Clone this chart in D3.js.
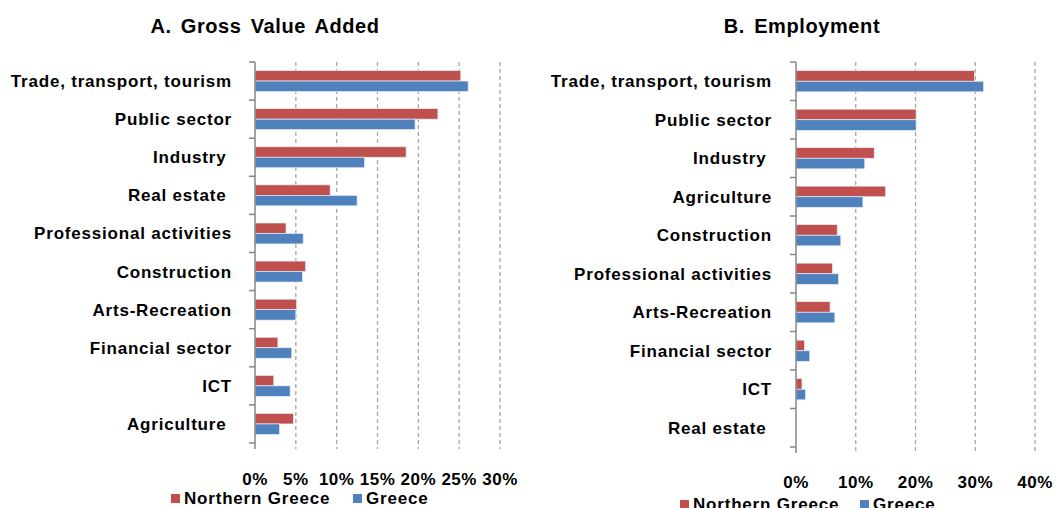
<!DOCTYPE html>
<html>
<head>
<meta charset="utf-8">
<script src="https://cdn.jsdelivr.net/npm/d3@7"></script>
<style>
  body { margin: 0; background: #ffffff; }
  svg { display: block; font-family: "Liberation Sans", Arial, sans-serif; font-weight: bold; }
</style>
</head>
<body>
<div id="chart"></div>
<script>
// series names
const seriesNames = ['Northern Greece', 'Greece']
const seriesColors = ['#C0504D', '#4F81BD']

// panel A: gross value added (share, %)
const gvaCategories = ['Trade, transport, tourism', 'Public sector', 'Industry ', 'Real estate ',
  'Professional activities', 'Construction', 'Arts-Recreation', 'Financial sector', 'ICT', 'Agriculture ']
const gvaNorthern = [25.2, 22.4, 18.5, 9.2, 3.8, 6.2, 5.1, 2.8, 2.3, 4.7]
const gvaGreece = [26.1, 19.6, 13.4, 12.5, 5.9, 5.8, 5.0, 4.5, 4.3, 3.0]
const gvaTicks = [0, 5, 10, 15, 20, 25, 30]

// panel B: employment (share, %)
const empCategories = ['Trade, transport, tourism', 'Public sector', 'Industry ', 'Agriculture',
  'Construction', 'Professional activities', 'Arts-Recreation', 'Financial sector', 'ICT', 'Real estate ']
const empNorthern = [29.9, 20.1, 13.1, 15.0, 6.9, 6.1, 5.7, 1.4, 1.0, 0]
const empGreece = [31.4, 20.1, 11.5, 11.2, 7.5, 7.1, 6.5, 2.3, 1.6, 0]
const empTicks = [0, 10, 20, 30, 40]

const svg = d3.select('#chart')
  .append('svg')
  .attr('width', 1057)
  .attr('height', 508)

function drawPanel(opts) {
  const g = svg.append('g')

  // title
  g.append('text')
    .attr('x', opts.titleX)
    .attr('y', 33)
    .attr('text-anchor', 'middle')
    .style('font-size', '20px')
    .style('letter-spacing', '0.6px')
    .style('word-spacing', '3px')
    .text(opts.title)

  const x = d3.scaleLinear()
    .domain([0, d3.max(opts.ticks)])
    .range([opts.left, opts.right])

  const y = d3.scaleBand()
    .domain(opts.categories)
    .range([opts.top, opts.bottom])
    .paddingInner(0.45)
    .paddingOuter(0.225)

  const ySub = d3.scaleBand()
    .domain(seriesNames)
    .range([0, y.bandwidth()])

  // dashed gridlines
  g.append('g')
    .selectAll('line')
    .data(opts.ticks.slice(1))
    .enter()
    .append('line')
      .attr('x1', d => x(d))
      .attr('x2', d => x(d))
      .attr('y1', opts.top)
      .attr('y2', opts.bottom + 6)
      .attr('stroke', '#a6a6a6')
      .attr('stroke-width', 1.3)
      .attr('stroke-dasharray', '4,3')

  // bars
  const rows = opts.categories.map((c, i) => ({ cat: c, vals: [opts.northern[i], opts.greece[i]] }))
  const groups = g.append('g')
    .selectAll('g')
    .data(rows)
    .enter()
    .append('g')
      .attr('transform', d => 'translate(0,' + y(d.cat) + ')')

  groups.selectAll('rect')
    .data(d => d.vals.map((v, j) => ({ name: seriesNames[j], value: v, color: seriesColors[j] })))
    .enter()
    .append('rect')
      .attr('x', x(0))
      .attr('y', d => ySub(d.name))
      .attr('width', d => x(d.value) - x(0))
      .attr('height', ySub.bandwidth())
      .attr('fill', d => d.color)
      .attr('stroke', d => d.value > 0 ? '#e6ecf5' : 'none')
      .attr('stroke-width', 0.7)

  // category axis (ticks between categories)
  const step = (opts.bottom - opts.top) / opts.categories.length
  const catTicks = d3.range(opts.categories.length + 1).map(i => opts.top + i * step)
  g.append('line')
    .attr('x1', x(0)).attr('x2', x(0))
    .attr('y1', opts.top).attr('y2', opts.bottom + 6)
    .attr('stroke', '#868686')
    .attr('stroke-width', 1.5)
  g.append('g')
    .selectAll('line')
    .data(catTicks)
    .enter()
    .append('line')
      .attr('x1', x(0) - 6).attr('x2', x(0))
      .attr('y1', d => d).attr('y2', d => d)
      .attr('stroke', '#868686')
      .attr('stroke-width', 1.5)

  // category labels
  g.append('g')
    .selectAll('text')
    .data(opts.categories)
    .enter()
    .append('text')
      .attr('x', opts.labelX)
      .attr('y', d => y(d) + y.bandwidth() / 2)
      .attr('dy', '0.35em')
      .attr('text-anchor', 'end')
      .style('font-size', '17px')
      .style('letter-spacing', '0.8px')
      .style('white-space', 'pre')
      .text(d => d)

  // value tick labels
  g.append('g')
    .selectAll('text')
    .data(opts.ticks)
    .enter()
    .append('text')
      .attr('x', d => x(d))
      .attr('y', opts.tickY)
      .attr('dy', '0.35em')
      .attr('text-anchor', 'middle')
      .style('font-size', '17px')
      .style('letter-spacing', '0.5px')
      .text(d => d + '%')

  // legend
  const legend = g.append('g')
  opts.legendX.forEach((lx, j) => {
    legend.append('rect')
      .attr('x', lx)
      .attr('y', opts.legendY - 4)
      .attr('width', 9)
      .attr('height', 9)
      .attr('fill', seriesColors[j])
    legend.append('text')
      .attr('x', lx + 13)
      .attr('y', opts.legendY)
      .attr('dy', '0.35em')
      .style('font-size', '17px')
      .style('letter-spacing', '0.8px')
      .text(seriesNames[j])
  })
}

drawPanel({
  title: 'A. Gross Value Added', titleX: 265,
  categories: gvaCategories, northern: gvaNorthern, greece: gvaGreece, ticks: gvaTicks,
  left: 255, right: 500, top: 62, bottom: 443, labelX: 232,
  tickY: 479, legendX: [171, 353], legendY: 498
})

drawPanel({
  title: 'B. Employment', titleX: 802,
  categories: empCategories, northern: empNorthern, greece: empGreece, ticks: empTicks,
  left: 796, right: 1035, top: 62, bottom: 447, labelX: 772,
  tickY: 482, legendX: [680, 860], legendY: 504
})
</script>
</body>
</html>
